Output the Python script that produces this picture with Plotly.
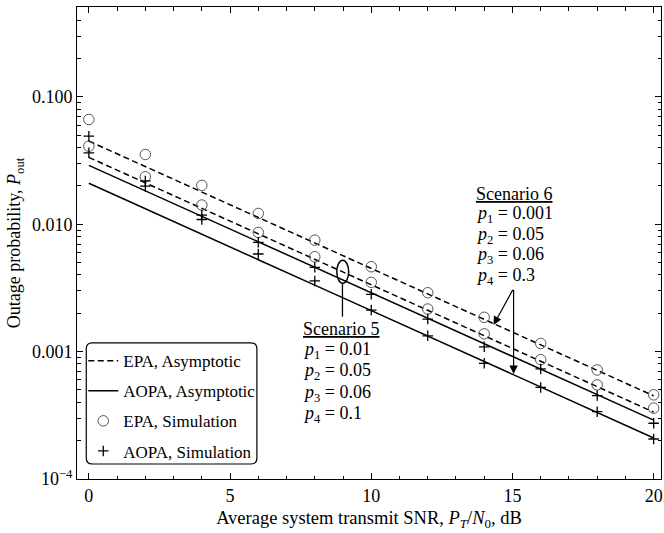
import numpy as np
import plotly.graph_objects as go

# ---------------- data ----------------
snr = [0, 2, 4, 6, 8, 10, 12, 14, 16, 18, 20]

# asymptotic curves
epa_asym_s6 = [0.045, 0.0284, 0.0179, 0.0113, 0.00713, 0.0045, 0.00284, 0.00179, 0.00113, 0.000713, 0.00045]
epa_asym_s5 = [0.0335, 0.0211, 0.0133, 0.00841, 0.00531, 0.00335, 0.00211, 0.00133, 0.000841, 0.000531, 0.000335]
aopa_asym_s5 = [0.029, 0.0183, 0.0115, 0.00728, 0.00459, 0.0029, 0.00183, 0.00115, 0.000728, 0.000459, 0.00029]
aopa_asym_s6 = [0.021, 0.0132, 0.00836, 0.00527, 0.00333, 0.0021, 0.00132, 0.000836, 0.000527, 0.000333, 0.00021]

# simulation points
epa_sim_s6 = [0.0665, 0.0353, 0.0202, 0.01216, 0.00751, 0.00464, 0.0029, 0.00186, 0.00116, 0.000718, 0.000458]
epa_sim_s5 = [0.041, 0.0236, 0.01416, 0.00863, 0.00556, 0.0035, 0.00216, 0.00138, 0.000865, 0.000548, 0.00036]
aopa_sim_s5 = [0.0492, 0.0219, 0.0118, 0.00721, 0.00459, 0.00282, 0.0018, 0.00109, 0.000731, 0.000452, 0.000274]
aopa_sim_s6 = [0.0364, 0.0199, 0.0109, 0.00584, 0.00359, 0.00212, 0.00133, 0.00081, 0.000524, 0.000338, 0.000206]

y_tickvals = [1e-4, 1e-3, 1e-2, 1e-1]
y_ticktext = ["10<sup>\u22124</sup>", "0.001", "0.010", "0.100"]
x_tickvals = [0, 5, 10, 15, 20]

scen6_lines = ["<u>Scenario 6</u>", "<i>p</i><sub>1</sub> = 0.001", "<i>p</i><sub>2</sub> = 0.05",
               "<i>p</i><sub>3</sub> = 0.06", "<i>p</i><sub>4</sub> = 0.3"]
scen5_lines = ["<u>Scenario 5</u>", "<i>p</i><sub>1</sub> = 0.01", "<i>p</i><sub>2</sub> = 0.05",
               "<i>p</i><sub>3</sub> = 0.06", "<i>p</i><sub>4</sub> = 0.1"]

FONT = "Liberation Serif"

fig = go.Figure()

dash = "6px,3.5px"
fig.add_trace(go.Scatter(x=snr, y=epa_asym_s5, mode="lines", name="EPA, Asymptotic",
                         legendgroup="g1", line=dict(color="black", width=1.5, dash=dash)))
fig.add_trace(go.Scatter(x=snr, y=epa_asym_s6, mode="lines", showlegend=False,
                         legendgroup="g1", line=dict(color="black", width=1.5, dash=dash)))
fig.add_trace(go.Scatter(x=snr, y=aopa_asym_s5, mode="lines", name="AOPA, Asymptotic",
                         legendgroup="g2", line=dict(color="black", width=1.5)))
fig.add_trace(go.Scatter(x=snr, y=aopa_asym_s6, mode="lines", showlegend=False,
                         legendgroup="g2", line=dict(color="black", width=1.5)))

circ = dict(symbol="circle-open", size=10.5, color="#555555", line=dict(width=1, color="#555555"))
fig.add_trace(go.Scatter(x=snr, y=epa_sim_s5, mode="markers", name="EPA, Simulation",
                         legendgroup="g3", marker=circ))
fig.add_trace(go.Scatter(x=snr, y=epa_sim_s6, mode="markers", showlegend=False,
                         legendgroup="g3", marker=circ))
plus = dict(symbol="cross-thin-open", size=7.5, color="black", line=dict(width=1.3, color="black"))
fig.add_trace(go.Scatter(x=snr, y=aopa_sim_s5, mode="markers", name="AOPA, Simulation",
                         legendgroup="g4", marker=plus))
fig.add_trace(go.Scatter(x=snr, y=aopa_sim_s6, mode="markers", showlegend=False,
                         legendgroup="g4", marker=plus))

# pixel helpers for paper coords
L, R, T, B = 76.7, 663.0, 6.7, 479.0
def px(xp):
    return (xp - L) / (R - L)
def py(yp):
    return (B - yp) / (B - T)

# rounded legend frame
x0, x1, y0, y1 = px(86), px(257.3), py(464), py(342.7)
rx, ry = 6 / (R - L), 6 / (B - T)
path = (f"M {x0+rx},{y0} L {x1-rx},{y0} Q {x1},{y0} {x1},{y0+ry} "
        f"L {x1},{y1-ry} Q {x1},{y1} {x1-rx},{y1} "
        f"L {x0+rx},{y1} Q {x0},{y1} {x0},{y1-ry} "
        f"L {x0},{y0+ry} Q {x0},{y0} {x0+rx},{y0} Z")
fig.add_shape(type="path", path=path, xref="paper", yref="paper",
              line=dict(color="black", width=1.2), fillcolor="white", layer="below")

# ellipse marking scenario 5 and its leader line
fig.add_shape(type="circle", xref="x", yref="y", x0=8.78, x1=9.2, y0=0.00344, y1=0.00522,
              line=dict(color="black", width=1.5))
fig.add_shape(type="line", xref="x", yref="y", x0=8.98, x1=8.98, y0=0.00344, y1=0.00188,
              line=dict(color="black", width=1.3))

# scenario text blocks, one annotation per line
scen6_y = [194, 214.5, 235, 255.5, 276]
scen5_y = [329, 350, 371.5, 393, 414.5]
for t, yy in zip(scen6_lines, scen6_y):
    fig.add_annotation(x=13.64, y=py(yy), xref="x", yref="paper", text=t, showarrow=False,
                       xanchor="left", yanchor="middle", align="left",
                       font=dict(family=FONT, size=18, color="black"))
for t, yy in zip(scen5_lines, scen5_y):
    fig.add_annotation(x=7.52, y=py(yy), xref="x", yref="paper", text=t, showarrow=False,
                       xanchor="left", yanchor="middle", align="left",
                       font=dict(family=FONT, size=18, color="black"))

# arrows for scenario 6
for hx, hy in [(14.33, 0.00162), (15.04, 0.000668)]:
    fig.add_annotation(x=hx, y=np.log10(hy), ax=15.04, ay=np.log10(0.00314),
                       xref="x", yref="y", axref="x", ayref="y", text="",
                       showarrow=True, arrowhead=2, arrowsize=1.4, arrowwidth=1.2,
                       arrowcolor="black", standoff=0)

axis_common = dict(showline=True, linecolor="black", linewidth=1, mirror="allticks",
                   ticks="inside", ticklen=6, tickcolor="black", tickwidth=1,
                   showgrid=False, zeroline=False,
                   tickfont=dict(family=FONT, size=18, color="black"))

minor_y = [m * 10.0 ** e for e in range(-4, 0) for m in range(2, 10) if m * 10.0 ** e < 0.51]
fig.update_yaxes(type="log", range=[-4, np.log10(0.508)], tickmode="array",
                 tickvals=y_tickvals, ticktext=y_ticktext,
                 minor=dict(tickmode="array", tickvals=minor_y, ticks="inside", ticklen=3.5,
                            tickcolor="black"),
                 title=dict(text="Outage probability, <i>P</i><sub>out</sub>",
                            font=dict(family=FONT, size=18, color="black"), standoff=6),
                 **axis_common)
fig.update_xaxes(range=[-0.42, 20.26], tickmode="array", tickvals=x_tickvals,
                 ticklabeloverflow="allow",
                 minor=dict(dtick=1, tick0=0, ticks="inside", ticklen=3.5, tickcolor="black"),
                 title=dict(text="Average system transmit SNR, <i>P</i><sub><i>T</i></sub>/<i>N</i><sub>0</sub>, dB",
                            font=dict(family=FONT, size=18.5, color="black"), standoff=6),
                 **axis_common)

fig.update_layout(
    width=664, height=533,
    margin=dict(l=77, r=1, t=7, b=54),
    paper_bgcolor="white", plot_bgcolor="white",
    font=dict(family=FONT, color="black"),
    legend=dict(x=px(83), y=py(343), xanchor="left", yanchor="top",
                bgcolor="rgba(0,0,0,0)", borderwidth=0, tracegroupgap=5,
                itemwidth=30, font=dict(family=FONT, size=17, color="black")),
)

fig.write_html("out.html")
